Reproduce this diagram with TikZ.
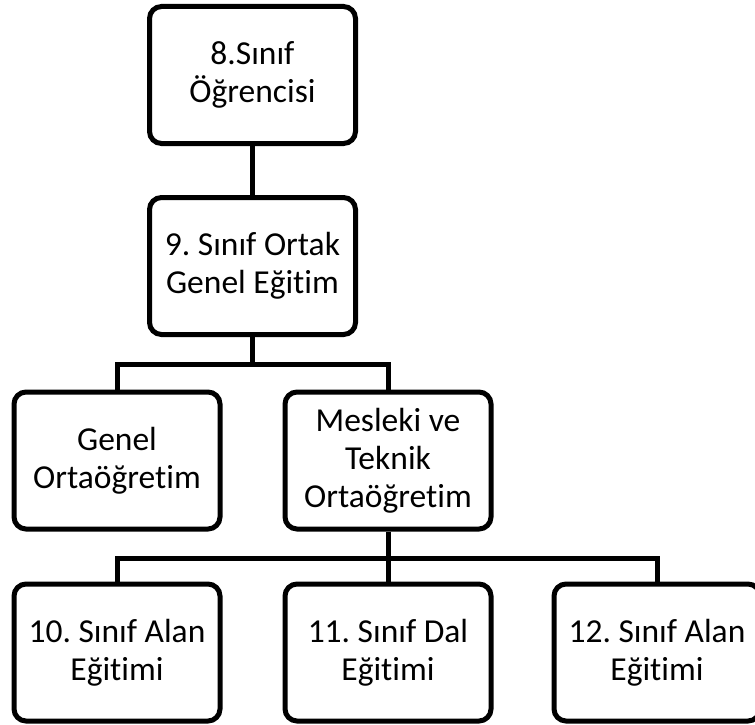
\documentclass[tikz,border=0pt]{standalone}
\usepackage{fontspec}
\setmainfont[Ligatures=NoCommon]{Carlito}
\frenchspacing
\begin{document}
\begin{tikzpicture}[x=1pt, y=-1pt,
  box/.style={draw, line width=5pt, rounded corners=12pt,
    minimum width=206pt, minimum height=137pt, inner sep=0pt,
    align=center, font=\fontsize{33.5}{38}\selectfont},
  link/.style={line width=5pt}]
  \useasboundingbox (0,0) rectangle (755,725);

  % boxes
  \node[box] (b1) at (252.5,75)  {8.Sınıf\\Öğrencisi};
  \node[box] (b2) at (252.5,266) {9. Sınıf Ortak\\Genel Eğitim};
  \node[box] (b3) at (117,460.5) {Genel\\Ortaöğretim};
  \node[box] (b4) at (388,460.5) {Mesleki ve\\Teknik\\Ortaöğretim};
  \node[box] (b5) at (117,652.5) {10. Sınıf Alan\\Eğitimi};
  \node[box] (b6) at (388,652.5) {11. Sınıf Dal\\Eğitimi};
  \node[box] (b7) at (657,652.5) {12. Sınıf Alan\\Eğitimi};

  % branching points
  \coordinate (busA) at (252.5,364);
  \coordinate (busB) at (388,558);

  % connectors
  \draw[link] (b1.south) -- (b2.north);
  \draw[link] (b2.south) -- (busA);
  \draw[link] (b3.north) -- (b3.north |- busA) -- (b4.north |- busA) -- (b4.north);
  \draw[link] (b4.south) -- (b6.north);
  \draw[link] (b5.north) -- (b5.north |- busB) -- (b7.north |- busB) -- (b7.north);
\end{tikzpicture}
\end{document}
